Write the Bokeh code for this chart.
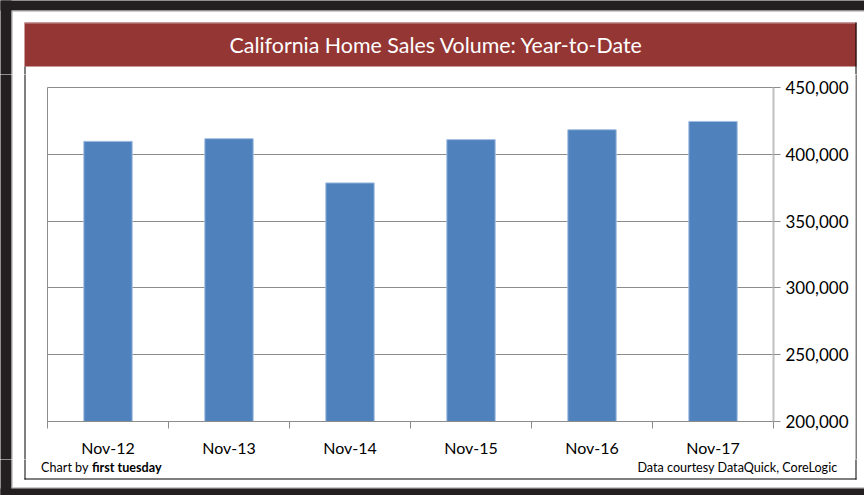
from bokeh.plotting import figure
from bokeh.layouts import column, row
from bokeh.models import BoxAnnotation, Label, FixedTicker, NumeralTickFormatter, Range1d
from bokeh.embed import file_html
from bokeh.resources import INLINE

categories = ["Nov-12", "Nov-13", "Nov-14", "Nov-15", "Nov-16", "Nov-17"]
sales = [409700, 411700, 378600, 411000, 418400, 424600]
y_ticks = [200000, 250000, 300000, 350000, 400000, 450000]
title_text = "California Home Sales Volume: Year-to-Date"
credit_prefix = "Chart by"
credit_name = "first tuesday"
source_text = "Data courtesy DataQuick, CoreLogic"

FONT = "Lato"
DARK = "#231f20"
EDGE = "#9a9a9a"
RED = "#943634"
n = len(categories)
centers = [i + 0.5 for i in range(n)]
bounds = list(range(n + 1))


def no_align(f):
    if "frame_align" in f.properties():
        f.frame_align = False
    return f


def deco_fig(x0, w, y0, h):
    """A figure whose frame covers its whole canvas; data units equal page pixels."""
    f = figure(width=w, height=h, x_range=Range1d(x0, x0 + w), y_range=Range1d(y0 + h, y0),
               output_backend="svg", toolbar_location=None, title=None,
               x_axis_location=None, y_axis_location=None, min_border=0)
    f.outline_line_color = None
    f.grid.visible = False
    f.border_fill_color = "white"
    f.background_fill_color = "white"
    return no_align(f)


def box(f, l, r, t, b, color):
    f.add_layout(BoxAnnotation(left=l, right=r, top=t, bottom=b, fill_color=color,
                               fill_alpha=1, line_color=None, line_width=0))


PAD = 6  # decorations run past the canvas edges so joins between canvases are seamless

# ---------------- header (page y 0..74) ----------------
H_TOP = 74
head = deco_fig(0, 864, 0, H_TOP)
box(head, -PAD, 864 + PAD, -PAD, 10, DARK)
box(head, 11, 864 + PAD, 10, 11, EDGE)
box(head, -PAD, 11, -PAD, H_TOP + PAD, DARK)
box(head, 11, 12, 11, H_TOP + PAD, EDGE)
box(head, 24, 856, 22, 66, RED)
box(head, 24, 856, 22, 23, "#c39a99")
box(head, 24, 25, 66, H_TOP + PAD, "black")
box(head, 855, 856, 22, H_TOP + PAD, "black")
head.add_layout(Label(x=436, y=44, text=title_text, text_align="center",
                      text_baseline="middle", text_color="white",
                      text_font=FONT, text_font_size="21.4px"))

# ---------------- middle row (page y 74..459) ----------------
MID_H = 385
left = deco_fig(0, 40, H_TOP, MID_H)
box(left, -PAD, 11, H_TOP - PAD, H_TOP + MID_H + PAD, DARK)
box(left, 11, 12, H_TOP - PAD, H_TOP + MID_H + PAD, EDGE)
box(left, 24, 25, H_TOP - PAD, H_TOP + MID_H + PAD, "black")

right = deco_fig(855, 9, H_TOP, MID_H)
box(right, 855, 856, H_TOP - PAD, H_TOP + MID_H + PAD, "black")

p = figure(width=815, height=MID_H, x_range=Range1d(0, n),
           y_range=Range1d(y_ticks[0], y_ticks[-1]),
           y_axis_location="right", output_backend="svg", toolbar_location=None,
           title=None,
           min_border_left=7, min_border_right=82, min_border_top=13, min_border_bottom=38)
no_align(p)
p.outline_line_color = "#8c8c8c"
p.background_fill_color = "white"
p.border_fill_color = "white"

p.vbar(x=centers, top=sales, bottom=y_ticks[0], width=0.4,
       fill_color="#4f81bd", line_color="#a4bfe3", line_width=1)

p.xgrid.visible = False
p.ygrid.grid_line_color = "#8c8c8c"
p.ygrid.grid_line_width = 1

p.xaxis.ticker = FixedTicker(ticks=centers, minor_ticks=bounds)
p.xaxis.major_label_overrides = {c: lab for c, lab in zip(centers, categories)}
p.xaxis.axis_line_color = "#8c8c8c"
p.xaxis.major_tick_out = 0
p.xaxis.major_tick_in = 0
p.xaxis.minor_tick_out = 7
p.xaxis.minor_tick_in = 0
p.xaxis.minor_tick_line_color = "#8c8c8c"
p.xaxis.major_label_standoff = 9
p.xaxis.major_label_text_font = FONT
p.xaxis.major_label_text_font_size = "16px"
p.xaxis.major_label_text_color = "black"

p.yaxis.ticker = FixedTicker(ticks=y_ticks)
p.yaxis.formatter = NumeralTickFormatter(format="0,0")
p.yaxis.axis_line_color = "#c0c0c0"
p.yaxis.axis_line_width = 2
p.yaxis.major_tick_out = 7
p.yaxis.major_tick_in = 0
p.yaxis.major_tick_line_color = "#8c8c8c"
p.yaxis.minor_tick_line_color = None
p.yaxis.major_label_standoff = 5
p.yaxis.major_label_text_font = FONT
p.yaxis.major_label_text_font_size = "17px"
p.yaxis.major_label_text_color = "black"

# ---------------- footer (page y 459..495) ----------------
F_TOP = H_TOP + MID_H
F_H = 495 - F_TOP
foot = deco_fig(0, 864, F_TOP, F_H)
box(foot, -PAD, 11, F_TOP - PAD, 495 + PAD, DARK)
box(foot, 11, 12, F_TOP - PAD, 487, EDGE)
box(foot, 24, 25, F_TOP - PAD, 479, "black")
box(foot, 855, 856, F_TOP - PAD, 479, "black")
box(foot, 24, 856, 478, 479, "black")
box(foot, 11, 864 + PAD, 487, 488, EDGE)
box(foot, -PAD, 864 + PAD, 488, 495 + PAD, DARK)
foot.add_layout(Label(x=88, y=466.5, text=credit_prefix, text_align="right",
                      text_baseline="middle", text_color="black",
                      text_font=FONT, text_font_size="12.6px"))
foot.add_layout(Label(x=91.5, y=466.5, text=credit_name, text_align="left",
                      text_baseline="middle", text_color="black",
                      text_font=FONT, text_font_size="12.6px", text_font_style="bold"))
foot.add_layout(Label(x=837, y=466.5, text=source_text, text_align="right",
                      text_baseline="middle", text_color="black",
                      text_font=FONT, text_font_size="12.6px"))

layout = column(head, row(left, p, right, spacing=0), foot, spacing=0)
open("out.html", "w").write(file_html(layout, INLINE))
